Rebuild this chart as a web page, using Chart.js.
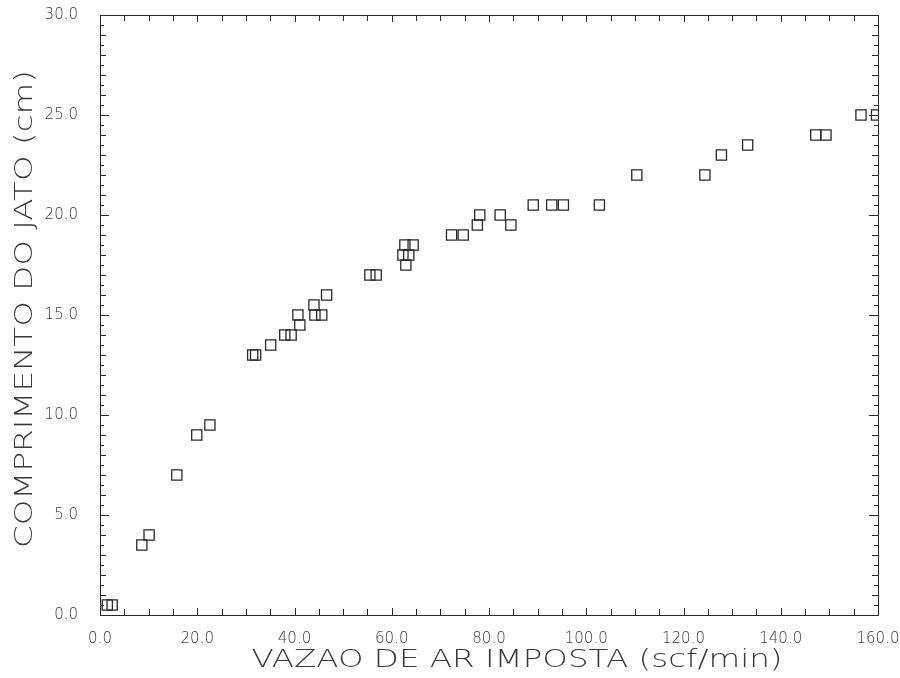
<!DOCTYPE html>
<html>
<head>
<meta charset="utf-8">
<script src="https://cdn.jsdelivr.net/npm/chart.js@4/dist/chart.umd.min.js"></script>
<style>
  html, body { margin: 0; padding: 0; background: #fff; }
  #wrap { width: 900px; height: 678px; }
</style>
</head>
<body>
<div id="wrap"><canvas id="c" width="900" height="678"></canvas></div>
<script>
// Imposed air flow (scf/min) and measured jet length (cm)
const flowRate = [
  1.5, 2.5,
  8.6, 10.1,
  15.8,
  19.9, 22.6,
  31.4, 32.0,
  35.1,
  38.0, 39.3,
  41.1,
  40.7, 44.2, 45.6,
  44.0,
  46.6,
  55.5, 56.8,
  62.3, 63.5,
  62.7, 64.4,
  62.9,
  72.3, 74.7,
  77.6, 78.1,
  82.3, 84.5,
  89.1, 92.9, 95.3, 102.7,
  110.4, 124.4,
  127.8, 133.2,
  147.2, 149.3,
  156.5, 159.7
];
const jetLength = [
  0.5, 0.5,
  3.5, 4.0,
  7.0,
  9.0, 9.5,
  13.0, 13.0,
  13.5,
  14.0, 14.0,
  14.5,
  15.0, 15.0, 15.0,
  15.5,
  16.0,
  17.0, 17.0,
  18.0, 18.0,
  18.5, 18.5,
  17.5,
  19.0, 19.0,
  19.5, 20.0,
  20.0, 19.5,
  20.5, 20.5, 20.5, 20.5,
  22.0, 22.0,
  23.0, 23.5,
  24.0, 24.0,
  25.0, 25.0
];

const xAxisTitle = 'VAZAO DE AR IMPOSTA (scf/min)';
const yAxisTitle = 'COMPRIMENTO DO JATO (cm)';

const inkColor = '#2a2a2a';
const labelColor = '#3a3a3a';
const titleFont = '200 24px "DejaVu Sans"';

const points = flowRate.map((x, i) => ({ x: x, y: jetLength[i] }));

// Frame, inward tick marks on all four sides, and the axis titles
const framePlugin = {
  id: 'frame',
  afterDraw(chart) {
    const ctx = chart.ctx;
    const { left, right, top, bottom } = chart.chartArea;
    const xs = chart.scales.x, ys = chart.scales.y;
    ctx.save();
    ctx.strokeStyle = inkColor;
    ctx.lineWidth = 1;
    ctx.strokeRect(left + 0.5, top + 0.5, right - left, bottom - top);

    ctx.beginPath();
    for (let v = 0; v <= 160; v += 5) {
      const px = Math.round(xs.getPixelForValue(v)) + 0.5;
      const len = (v % 20 === 0) ? 7 : 6;
      ctx.moveTo(px, bottom); ctx.lineTo(px, bottom - len);
      ctx.moveTo(px, top); ctx.lineTo(px, top + len);
    }
    for (let k = 0; k <= 60; k++) {
      const v = k / 2;
      const py = Math.round(ys.getPixelForValue(v)) + 0.5;
      const len = (k % 10 === 0) ? 9 : (k % 2 === 0 ? 6 : 4);
      ctx.moveTo(left, py); ctx.lineTo(left + len, py);
      ctx.moveTo(right, py); ctx.lineTo(right - len, py);
    }
    ctx.stroke();

    ctx.fillStyle = labelColor;
    ctx.font = titleFont;
    ctx.textAlign = 'center';
    ctx.textBaseline = 'middle';

    // horizontal title
    const xw = ctx.measureText(xAxisTitle).width;
    const xTarget = 531;
    ctx.save();
    ctx.translate(517, 661);
    ctx.scale(xTarget / xw, 1);
    ctx.fillText(xAxisTitle, 0, 0);
    ctx.restore();

    // vertical title
    const yw = ctx.measureText(yAxisTitle).width;
    const yTarget = 478;
    ctx.save();
    ctx.translate(26, 309);
    ctx.rotate(-Math.PI / 2);
    ctx.scale(yTarget / yw, 1);
    ctx.fillText(yAxisTitle, 0, 0);
    ctx.restore();

    ctx.restore();
  }
};

// Invisible outer tick marks keep the labels clear of the frame
const hiddenTickGrid = (len) => ({
  display: true,
  drawOnChartArea: false,
  drawTicks: true,
  tickLength: len,
  color: 'rgba(0,0,0,0)'
});

new Chart(document.getElementById('c'), {
  type: 'scatter',
  data: {
    datasets: [{
      data: points,
      pointStyle: 'rect',
      pointRadius: 7.2,
      pointHoverRadius: 7.2,
      borderColor: inkColor,
      backgroundColor: 'rgba(255,255,255,0)',
      pointBorderWidth: 1.3
    }]
  },
  options: {
    responsive: false,
    devicePixelRatio: 1,
    animation: false,
    layout: { padding: { left: 0, right: 22, top: 15, bottom: 0 } },
    plugins: {
      legend: { display: false },
      tooltip: { enabled: false }
    },
    scales: {
      x: {
        type: 'linear',
        min: 0, max: 160,
        afterFit(scale) { scale.height = 63; },
        grid: hiddenTickGrid(15),
        border: { display: false },
        ticks: {
          stepSize: 20,
          padding: 0,
          maxRotation: 0,
          color: labelColor,
          font: { family: 'DejaVu Sans', size: 15, weight: 300 },
          callback: v => Number(v).toFixed(1)
        }
      },
      y: {
        type: 'linear',
        min: 0, max: 30,
        afterFit(scale) { scale.width = 100; },
        grid: hiddenTickGrid(22),
        border: { display: false },
        ticks: {
          stepSize: 5,
          padding: 0,
          color: labelColor,
          font: { family: 'DejaVu Sans', size: 15, weight: 300 },
          callback: v => Number(v).toFixed(1)
        }
      }
    }
  },
  plugins: [framePlugin]
});
</script>
</body>
</html>
